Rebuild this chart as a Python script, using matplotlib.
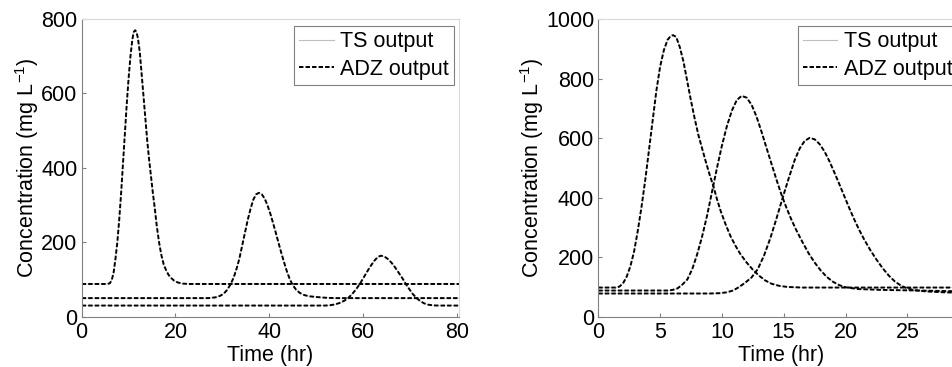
import matplotlib.pyplot as plt

plt.rcParams['font.family'] = ['Liberation Sans', 'DejaVu Sans']
plt.rcParams['mathtext.fontset'] = 'custom'
plt.rcParams['mathtext.rm'] = 'Liberation Sans'
plt.rcParams['lines.scale_dashes'] = False

# left panel: three pulses (time hr, conc mg/L)
ta = [0, 5.5, 6.0, 6.4, 6.8, 7.2, 7.6, 8.0, 8.4, 8.8, 9.2, 9.6, 10.0, 10.4,
      10.8, 11.1, 11.4, 11.7, 12.0, 12.4, 12.8, 13.2, 13.6, 14.0, 14.4, 14.8,
      15.2, 15.6, 16.0, 16.5, 17.0, 17.5, 18.0, 18.5, 19.0, 19.7, 20.5, 21.5,
      23, 80.5]
ca = [88, 88, 90, 98, 118, 155, 200, 260, 330, 410, 490, 570, 640, 700,
      745, 765, 770, 765, 748, 710, 650, 590, 530, 470, 420, 375,
      330, 290, 245, 200, 165, 140, 125, 113, 105, 97, 92, 89,
      88, 88]
tb = [0, 27, 28.5, 29.5, 30.3, 31.0, 31.7, 32.4, 33.0, 33.6, 34.2, 34.8, 35.4,
      36.0, 36.6, 37.2, 37.8, 38.4, 39.0, 39.6, 40.2, 40.8, 41.4, 42.0, 42.6,
      43.2, 43.8, 44.4, 45.0, 45.7, 46.5, 47.5, 48.5, 50, 52, 54, 80.5]
cb = [50, 50, 52, 56, 62, 72, 86, 105, 128, 155, 190, 225, 260,
      290, 315, 329, 333, 329, 318, 300, 278, 252, 225, 197, 170,
      144, 120, 100, 85, 73, 64, 58, 55, 53, 51, 50, 50]
tc = [0, 52, 53, 54, 55, 56, 56.8, 57.6, 58.4, 59.3, 60.1, 60.9, 61.7, 62.5,
      63.2, 63.8, 64.5, 65.2, 66.0, 66.8, 67.6, 68.4, 69.1, 69.8, 70.6, 71.4,
      72.2, 73.0, 74.0, 75, 76, 80.5]
cc = [30, 30, 31, 33, 37, 43, 50, 60, 72, 88, 105, 122, 138, 152,
      161, 164, 162, 156, 146, 133, 118, 103, 88, 75, 61, 50,
      42, 36, 32, 30.5, 30, 30]

# right panel
td = [0, 1.4, 1.7, 2.0, 2.3, 2.6, 2.9, 3.2, 3.5, 3.8, 4.1, 4.4, 4.7, 5.0,
      5.3, 5.6, 5.85, 6.05, 6.3, 6.6, 6.9, 7.2, 7.5, 7.8, 8.1, 8.4, 8.7, 9.0,
      9.3, 9.6, 9.9, 10.3, 10.7, 11.1, 11.5, 12.0, 12.5, 13.0, 13.5, 14.0,
      14.6, 15.3, 16.5, 29.5]
cd = [98, 98, 101, 112, 135, 170, 220, 290, 370, 460, 560, 660, 760, 840,
      895, 930, 943, 946, 940, 905, 855, 790, 725, 665, 610, 565, 520, 478,
      440, 395, 355, 310, 270, 238, 210, 182, 158, 138, 122, 111,
      104, 100, 98, 98]
te = [0, 5.6, 6.0, 6.4, 6.8, 7.2, 7.6, 8.0, 8.4, 8.8, 9.2, 9.6, 10.0, 10.4,
      10.8, 11.2, 11.6, 12.0, 12.4, 12.8, 13.2, 13.6, 14.0, 14.4, 14.8, 15.2,
      15.6, 16.0, 16.5, 17.0, 17.5, 18.0, 18.5, 19.0, 19.5, 20.0, 21, 23, 26,
      29.5]
ce = [88, 88, 90, 95, 108, 125, 160, 210, 270, 340, 420, 500, 575, 640,
      692, 728, 742, 736, 712, 672, 622, 568, 515, 462, 412, 368,
      328, 292, 252, 214, 182, 155, 133, 117, 106, 99, 93, 90, 88,
      85]
tf = [0, 9, 9.8, 10.4, 10.9, 11.4, 11.9, 12.4, 12.9, 13.4, 13.9, 14.4, 14.9,
      15.4, 15.9, 16.3, 16.7, 17.1, 17.5, 17.9, 18.3, 18.7, 19.1, 19.5, 19.9,
      20.3, 20.7, 21.1, 21.5, 22.0, 22.5, 23.0, 23.5, 24.0, 24.5, 25.0, 25.6,
      26.5, 28, 29.5]
cf = [78, 78, 79, 82, 88, 100, 115, 132, 160, 205, 262, 328, 398,
      465, 528, 566, 591, 601, 596, 580, 555, 522, 484, 445, 405,
      365, 327, 292, 260, 224, 192, 163, 138, 118, 104, 95, 89,
      85, 82, 80]

fig = plt.figure(figsize=(9.53, 3.67), dpi=100)
ax1 = fig.add_axes([0.0857, 0.137, 0.3962, 0.811])
ax2 = fig.add_axes([0.6278, 0.137, 0.3827, 0.811])

fs = 15.5

def panel(ax, curves, xmax, ymax, xt, yt):
    for t, c in curves:
        ax.plot(t, c, color='0.75', lw=0.5)
    for t, c in curves:
        ax.plot(t, c, color='k', lw=1.4, dashes=(3.2, 1.5))
    ax.set_xlim(0, xmax)
    ax.set_ylim(0, ymax)
    ax.set_xticks(xt)
    ax.set_yticks(yt)
    ax.tick_params(direction='in', length=3, color='0.5', labelsize=fs)
    ax.tick_params(axis='x', pad=4)
    ax.tick_params(axis='y', pad=3)
    for s in ['left', 'bottom']:
        ax.spines[s].set_color('0.5')
    for s in ['top', 'right']:
        ax.spines[s].set_color('0.85')
    ax.set_xlabel('Time (hr)', fontsize=fs, labelpad=1)
    ax.set_ylabel('Concentration (mg L$^{-1}$)', fontsize=fs, labelpad=0)
    h1, = ax.plot([], [], color='0.75', lw=0.8)
    h2, = ax.plot([], [], color='k', lw=1.4, dashes=(3.2, 1.5))
    w = ax.get_position().width * 953
    h = ax.get_position().height * 367
    leg = ax.legend([h1, h2], ['TS output', 'ADZ output'], loc='upper right',
                    bbox_to_anchor=(1 - 5 / w, 1 - 7 / h), borderaxespad=0,
                    fontsize=fs, fancybox=False, framealpha=1,
                    borderpad=0.25, labelspacing=0.3, handlelength=1.6,
                    handletextpad=0.3)
    leg.get_frame().set_edgecolor('0.5')
    leg.get_frame().set_linewidth(0.8)

panel(ax1, [(ta, ca), (tb, cb), (tc, cc)], 80.5, 800,
      [0, 20, 40, 60, 80], [0, 200, 400, 600, 800])
panel(ax2, [(td, cd), (te, ce), (tf, cf)], 29.5, 1000,
      [0, 5, 10, 15, 20, 25], [0, 200, 400, 600, 800, 1000])

fig.savefig('out.png', dpi=100)
